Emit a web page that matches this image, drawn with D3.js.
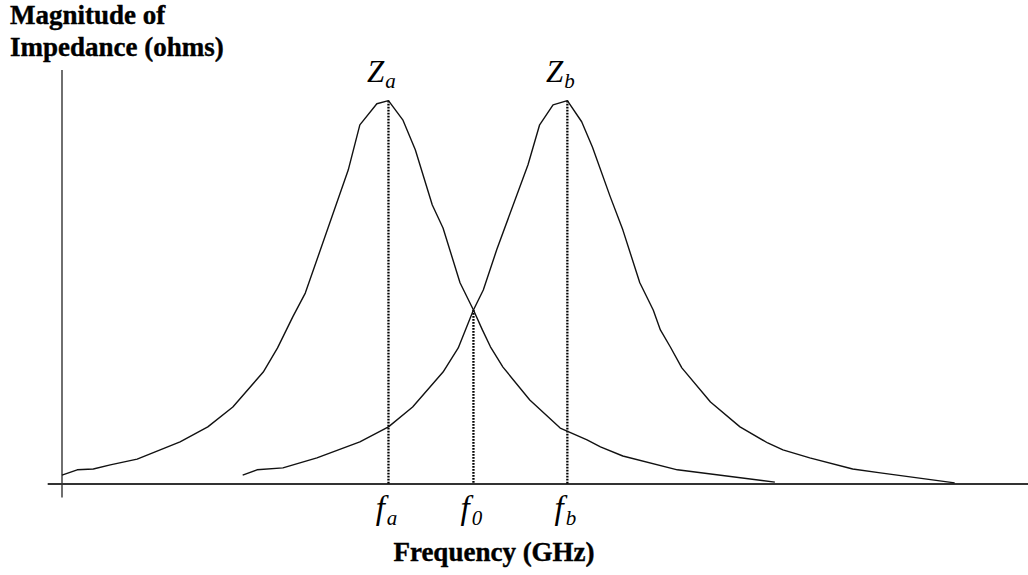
<!DOCTYPE html>
<html>
<head>
<meta charset="utf-8">
<script src="https://cdn.jsdelivr.net/npm/d3@7"></script>
<style>
  html, body { margin: 0; padding: 0; background: #fff; }
  svg { display: block; }
  text { font-family: "Liberation Serif", "Times New Roman", serif; fill: #000; }
</style>
</head>
<body>
<script>
// Impedance magnitude of two resonators versus frequency (arbitrary GHz units)
const freqA = [0.00, 0.17, 0.35, 0.54, 0.84, 1.32, 1.63, 1.91, 2.25, 2.41, 2.58, 2.72, 3.20, 3.33, 3.52, 3.65,
               3.81, 3.95, 4.14, 4.26, 4.45, 4.60, 4.70, 4.79, 4.93, 5.23, 5.57, 5.87, 6.02, 6.27, 6.88, 7.97];
const zA    = [2.3, 3.7, 3.9, 5.0, 6.5, 11.0, 14.9, 20.1, 29.2, 35.5, 43.6, 49.8, 81.9, 93.7, 99.2, 100,
               95.0, 87.2, 72.8, 66.8, 52.5, 45.4, 40.2, 35.8, 30.5, 21.9, 14.6, 11.5, 9.7, 7.3, 3.7, 0.5];

const freqB = [2.02, 2.18, 2.47, 2.85, 3.33, 3.65, 3.92, 4.26, 4.43, 4.60, 4.71, 4.86, 5.21, 5.34, 5.49, 5.65,
               5.81, 5.93, 6.13, 6.27, 6.46, 6.61, 6.69, 6.80, 6.93, 7.25, 7.58, 7.89, 8.06, 8.36, 8.84, 9.15, 9.98];
const zB    = [2.3, 3.7, 4.2, 6.8, 11.0, 14.9, 20.1, 29.2, 35.5, 45.4, 50.6, 61.1, 83.3, 93.7, 98.9, 100,
               94.5, 87.9, 74.9, 66.3, 52.5, 45.4, 40.2, 35.8, 30.3, 21.4, 14.9, 10.7, 8.9, 6.8, 3.9, 2.9, 0.3];

// Marked frequencies: the two resonances and the crossover
const markerFreqs = [3.65, 4.60, 5.65];
const markerZ     = [100, 45.4, 100];
const markerSubs  = ["a", "0", "b"];

// Peak labels
const peakFreqs = [3.65, 5.65];
const peakSubs  = ["a", "b"];

const titleLines = ["Magnitude of", "Impedance (ohms)"];
const xTitle = "Frequency (GHz)";

const W = 1028, H = 575;
const svg = d3.select("body").append("svg").attr("width", W).attr("height", H);

const x = d3.scaleLinear().domain([0, 10.8]).range([62, 1028]);
const y = d3.scaleLinear().domain([0, 108]).range([484, 70]);

// Axes
svg.append("line")
  .attr("x1", x(0)).attr("x2", x(0))
  .attr("y1", y(108)).attr("y2", y(-3.5))
  .attr("stroke", "#333").attr("stroke-width", 1.4);
svg.append("line")
  .attr("x1", x(-0.16)).attr("x2", x(10.8))
  .attr("y1", y(0)).attr("y2", y(0))
  .attr("stroke", "#333").attr("stroke-width", 1.8);

// Dotted drop lines
svg.selectAll("line.drop")
  .data(markerFreqs)
  .join("line")
  .attr("class", "drop")
  .attr("x1", d => x(d)).attr("x2", d => x(d))
  .attr("y1", (d, i) => y(markerZ[i])).attr("y2", y(0))
  .attr("stroke", "#000").attr("stroke-width", 2.3)
  .attr("stroke-dasharray", "1.8,1.2");

// Curves
const line = d3.line().x(d => x(d[0])).y(d => y(d[1]));
const curves = [d3.zip(freqA, zA), d3.zip(freqB, zB)];
svg.selectAll("path.curve")
  .data(curves)
  .join("path")
  .attr("class", "curve")
  .attr("d", line)
  .attr("fill", "none")
  .attr("stroke", "#111")
  .attr("stroke-width", 1.4)
  .attr("stroke-linejoin", "round");

// Peak labels Z_a, Z_b
const zl = svg.selectAll("text.peak")
  .data(peakFreqs)
  .join("text")
  .attr("class", "peak")
  .attr("x", d => x(d) - 7)
  .attr("y", 82)
  .attr("text-anchor", "middle")
  .style("font-style", "italic");
zl.append("tspan").attr("font-size", 31).text("Z");
zl.append("tspan").attr("font-size", 21).attr("dy", 6).attr("dx", 1).text((d, i) => peakSubs[i]);

// Frequency markers f_a, f_0, f_b
const fl = svg.selectAll("text.mark")
  .data(markerFreqs)
  .join("text")
  .attr("class", "mark")
  .attr("x", d => x(d) - 2)
  .attr("y", 519)
  .attr("text-anchor", "middle")
  .style("font-style", "italic");
fl.append("tspan").attr("font-size", 33).text("f");
fl.append("tspan").attr("font-size", 21).attr("dy", 6).attr("dx", 2).text((d, i) => markerSubs[i]);

// Axis titles
svg.selectAll("text.ytitle")
  .data(titleLines)
  .join("text")
  .attr("class", "ytitle")
  .attr("x", 10)
  .attr("y", (d, i) => 24 + i * 32)
  .attr("font-size", 27)
  .attr("font-weight", "bold")
  .attr("stroke", "#000").attr("stroke-width", 0.4)
  .text(d => d);

svg.append("text")
  .attr("x", 494)
  .attr("y", 561)
  .attr("text-anchor", "middle")
  .attr("font-size", 27)
  .attr("font-weight", "bold")
  .attr("stroke", "#000").attr("stroke-width", 0.4)
  .text(xTitle);
</script>
</body>
</html>
